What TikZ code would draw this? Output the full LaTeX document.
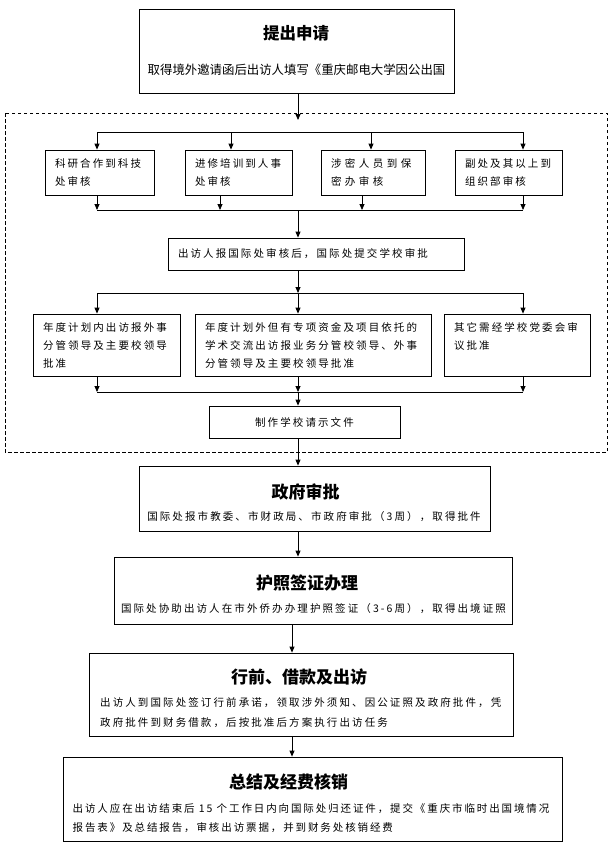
\documentclass[tikz,border=0pt]{standalone}
\usepackage{fontspec}
\usetikzlibrary{arrows.meta}
\newfontfamily\cjk[LetterSpace=20]{Noto Sans CJK SC}
\newfontfamily\cjkf[LetterSpace=18]{Noto Sans CJK SC}
\newfontfamily\cjkw[LetterSpace=33]{Noto Sans CJK SC}
\newfontfamily\cjkn{Noto Sans CJK SC}
\begin{document}
\begin{tikzpicture}[x=1pt,y=-1pt,
 box/.style={draw,line width=0.8pt,inner sep=0pt,inner xsep=10pt,align=left,font=\cjk\fontsize{10.5}{18}\selectfont},
 frame/.style={draw,line width=0.8pt,inner sep=0pt},
 ttl/.style={inner sep=0pt,font=\cjkn\bfseries\fontsize{17}{17}\selectfont},
 body/.style={inner sep=0pt,align=left,font=\cjk\fontsize{10.5}{20}\selectfont},
 arr/.style={line width=0.8pt,-{Triangle[length=6pt,width=5pt]}},
 ln/.style={line width=0.8pt}]
\useasboundingbox (0,0) rectangle (613,855);

% dashed zone
\draw[line width=0.8pt,dash pattern=on 3.5pt off 2.5pt] (5,113) rectangle (607,452);

% top box
\node[frame,minimum width=315pt,minimum height=84pt] (apply) at (296.5,51) {};
\node[ttl,font=\cjkn\bfseries\fontsize{16.5}{16.5}\selectfont] (applyT) at (296,33) {提出申请};
\node[inner sep=0pt,font=\cjkn\fontsize{12.4}{14}\selectfont] (applyS) at (296.5,70) {取得境外邀请函后出访人填写《重庆邮电大学因公出国};

% row 1
\node[box,text width=89pt,minimum height=45pt] (a) at (99.5,172.5) {科研合作到科技\\处审核};
\node[box,text width=87pt,minimum height=45pt] (b) at (238.5,172.5) {进修培训到人事\\处审核};
\node[box,text width=84pt,minimum height=45pt,font=\cjkw\fontsize{10.5}{18}\selectfont] (c) at (373,172.5) {涉密人员到保\\密办审核};
\node[box,text width=87pt,minimum height=45pt] (d) at (508.5,172.5) {副处及其以上到\\组织部审核};

% review
\node[box,text width=276pt,minimum height=32pt] (review) at (316,254) {出访人报国际处审核后，国际处提交学校审批};

% row 2
\node[box,text width=127pt,minimum height=62pt] (e) at (106.5,345) {年度计划内出访报外事\\分管领导及主要校领导\\批准};
\node[box,text width=216pt,minimum height=62pt] (f) at (313,345) {年度计划外但有专项资金及项目依托的\\学术交流出访报业务分管校领导、外事\\分管领导及主要校领导批准};
\node[box,text width=126pt,minimum height=62pt] (g) at (517,345) {其它需经学校党委会审\\议批准\\\vphantom{批}};

% school document
\node[box,text width=171pt,minimum height=32pt,align=center] (h) at (304.5,422) {制作学校请示文件};

% government
\node[frame,minimum width=351pt,minimum height=65pt] (gov) at (314.5,498.5) {};
\node[ttl] (govT) at (305.5,492) {政府审批};
\node[body] (govS) at (314,517) {国际处报市教委、市财政局、市政府审批（3周），取得批件};

% passport
\node[frame,minimum width=398pt,minimum height=67pt] (pass) at (313,590.5) {};
\node[ttl] (passT) at (307,583) {护照签证办理};
\node[body] (passS) at (313.5,609) {国际处协助出访人在市外侨办办理护照签证（3-6周），取得出境证照};

% pre-departure
\node[frame,minimum width=424pt,minimum height=83pt] (pre) at (301,694.5) {};
\node[ttl] (preT) at (299,677) {行前、借款及出访};
\node[body,anchor=west] (preS) at (100,713) {出访人到国际处签订行前承诺，领取涉外须知、因公证照及政府批件，凭\\政府批件到财务借款，后按批准后方案执行出访任务};

% final
\node[frame,minimum width=499pt,minimum height=84pt] (fin) at (312.5,799) {};
\node[ttl] (finT) at (288.5,782) {总结及经费核销};
\node[body,anchor=west,font=\cjkf\fontsize{10.5}{19}\selectfont] (finS) at (72.5,818.5) {出访人应在出访结束后 15 个工作日内向国际处归还证件，提交《重庆市临时出国境情况\\报告表》及总结报告，审核出访票据，并到财务处核销经费};

% connectors
\coordinate (j0) at (298,120);
\draw[arr] (apply.south -| j0) -- (j0);
\coordinate (t1) at (97,132); \coordinate (t2) at (231,132);
\coordinate (t3) at (371,132); \coordinate (t4) at (523,132);
\draw[ln] (t1) -- (t4);
\draw[arr] (t1) -- (t1 |- a.north);
\draw[arr] (t2) -- (t2 |- b.north);
\draw[arr] (t3) -- (t3 |- c.north);
\draw[arr] (t4) -- (t4 |- d.north);

\coordinate (b1) at (97,210); \coordinate (b2) at (220,210);
\coordinate (b3) at (362,210); \coordinate (b4) at (523,210);
\coordinate (bc) at (298,210);
\draw[arr] (b1 |- a.south) -- (b1);
\draw[arr] (b2 |- b.south) -- (b2);
\draw[arr] (b3 |- c.south) -- (b3);
\draw[arr] (b4 |- d.south) -- (b4);
\draw[ln] (b1) -- (b4);
\draw[arr] (bc) -- (bc |- review.north);

\coordinate (c1) at (97,293); \coordinate (cc) at (298,293); \coordinate (c3) at (523,293);
\draw[arr] (review.south -| cc) -- (cc);
\draw[ln] (c1) -- (c3);
\draw[arr] (c1) -- (c1 |- e.north);
\draw[arr] (cc) -- (cc |- f.north);
\draw[arr] (c3) -- (c3 |- g.north);

\coordinate (d1) at (97,392); \coordinate (dc) at (298,392); \coordinate (d3) at (523,392);
\draw[arr] (d1 |- e.south) -- (d1);
\draw[arr] (dc |- f.south) -- (dc);
\draw[arr] (d3 |- g.south) -- (d3);
\draw[ln] (d1) -- (d3);
\draw[arr] (dc) -- (dc |- h.north);

\draw[arr] (h.south -| dc) -- (gov.north -| dc);
\draw[arr] (gov.south -| dc) -- (pass.north -| dc);
\coordinate (xl) at (292,640);
\draw[arr] (pass.south -| xl) -- (pre.north -| xl);
\draw[arr] (pre.south -| xl) -- (fin.north -| xl);
\end{tikzpicture}
\end{document}
